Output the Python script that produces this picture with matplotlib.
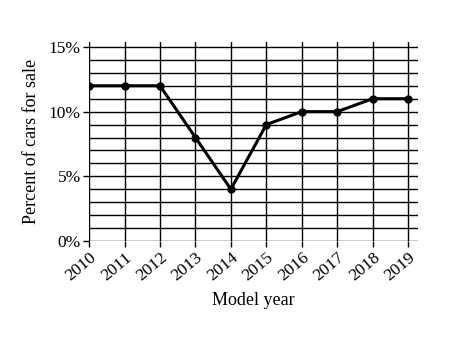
import numpy as np
import matplotlib.pyplot as plt

plt.rcParams['font.family'] = 'Liberation Serif'

years = [2010, 2011, 2012, 2013, 2014, 2015, 2016, 2017, 2018, 2019]
percent = [12, 12, 12, 8, 4, 9, 10, 10, 11, 11]
ytick_vals = [0, 5, 10, 15]
ytick_labels = ['0%', '5%', '10%', '15%']

fig = plt.figure(figsize=(4.5, 3.38), dpi=100)
ax = fig.add_axes([0.198, 0.287, 0.731, 0.589])

# grid lines every 1% and every year
for v in range(0, 16):
    ax.axhline(v, color='black', lw=1.0, zorder=1)
for yr in years:
    ax.axvline(yr, color='black', lw=1.0, zorder=1)

ax.plot(years, percent, color='black', lw=2.2, marker='o', markersize=5, zorder=3)

ax.set_xlim(2010, 2019.28)
ax.set_ylim(0, 15.39)
for s in ax.spines.values():
    s.set_visible(False)

ax.set_xticks(years)
ax.set_xticklabels([str(y) for y in years], rotation=40, ha='right',
                   rotation_mode='anchor', fontsize=12.5)
ax.set_yticks(ytick_vals)
ax.set_yticklabels(ytick_labels, fontsize=12.5)
ax.tick_params(axis='both', length=4, width=1, color='black', pad=2)

ax.set_xlabel('Model year', fontsize=13, labelpad=6)
ax.set_ylabel('Percent of cars for sale', fontsize=13, labelpad=6)

fig.savefig('out.png', dpi=100)
